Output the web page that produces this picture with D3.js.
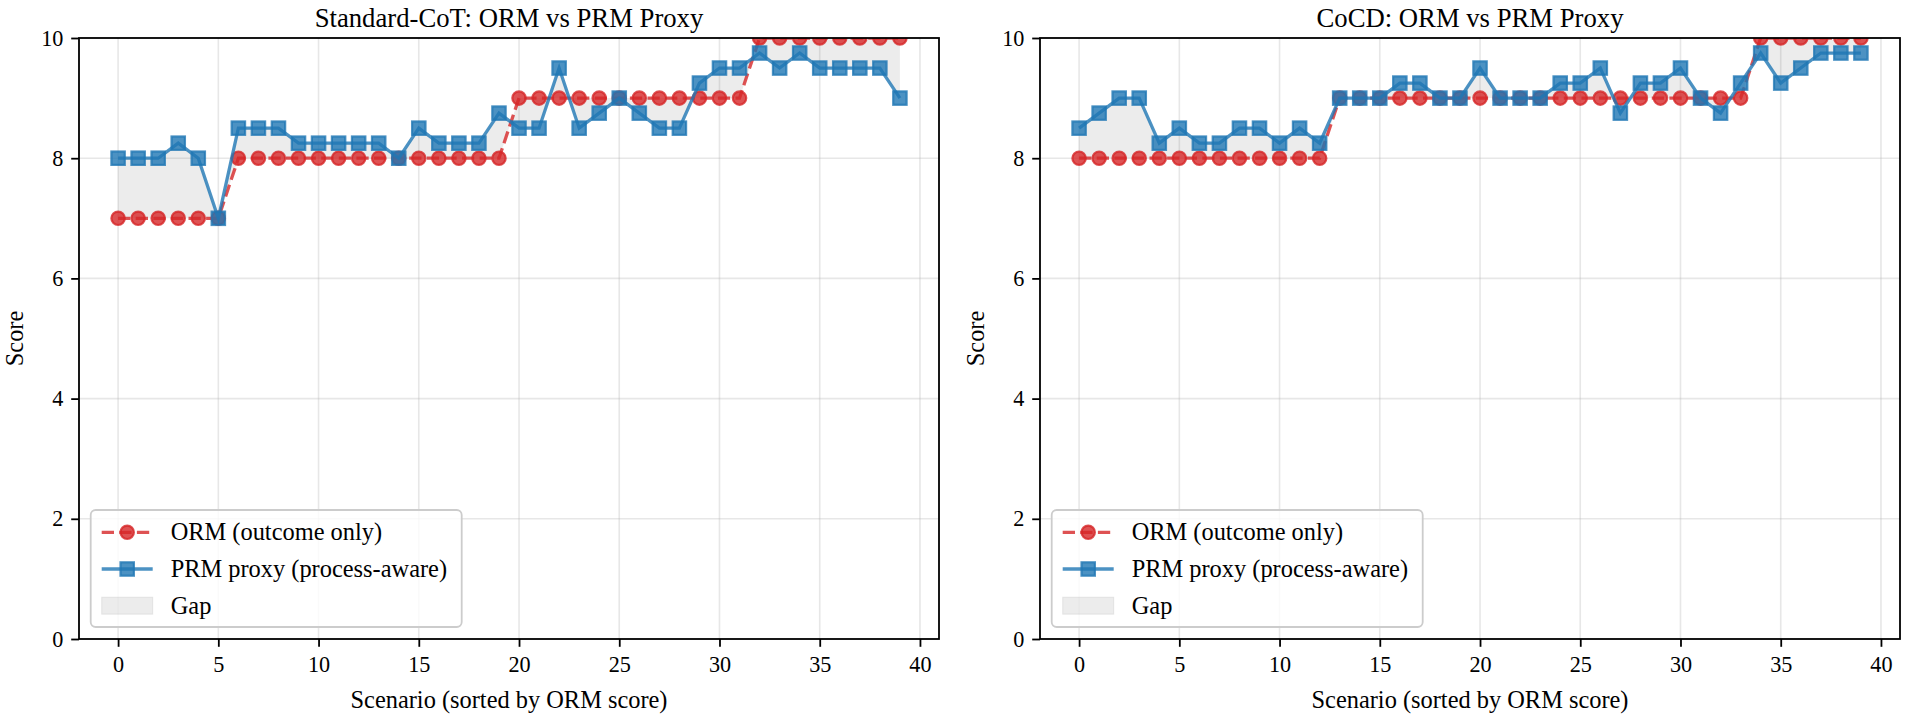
<!DOCTYPE html>
<html>
<head>
<meta charset="utf-8">
<script src="https://cdn.jsdelivr.net/npm/d3@7"></script>
<style>
  body { margin: 0; background: #fff; }
  svg { display: block; font-family: "Liberation Serif", "DejaVu Serif", serif; }
</style>
</head>
<body>
<div id="chart"></div>
<script>
const width = 1910;
const height = 723;

// scores per scenario, sorted by ORM score
const stdOrm = [7, 7, 7, 7, 7, 7, 8, 8, 8, 8, 8, 8, 8, 8, 8, 8, 8, 8, 8, 8,
                9, 9, 9, 9, 9, 9, 9, 9, 9, 9, 9, 9, 10, 10, 10, 10, 10, 10, 10, 10];
const stdPrm = [8, 8, 8, 8.25, 8, 7, 8.5, 8.5, 8.5, 8.25, 8.25, 8.25, 8.25, 8.25, 8, 8.5, 8.25, 8.25, 8.25, 8.75,
                8.5, 8.5, 9.5, 8.5, 8.75, 9, 8.75, 8.5, 8.5, 9.25, 9.5, 9.5, 9.75, 9.5, 9.75, 9.5, 9.5, 9.5, 9.5, 9];
const cocdOrm = [8, 8, 8, 8, 8, 8, 8, 8, 8, 8, 8, 8, 8, 9, 9, 9, 9, 9, 9, 9,
                 9, 9, 9, 9, 9, 9, 9, 9, 9, 9, 9, 9, 9, 9, 10, 10, 10, 10, 10, 10];
const cocdPrm = [8.5, 8.75, 9, 9, 8.25, 8.5, 8.25, 8.25, 8.5, 8.5, 8.25, 8.5, 8.25, 9, 9, 9, 9.25, 9.25, 9, 9,
                 9.5, 9, 9, 9, 9.25, 9.25, 9.5, 8.75, 9.25, 9.25, 9.5, 9, 8.75, 9.25, 9.75, 9.25, 9.5, 9.75, 9.75, 9.75];

const panelTitles = ["Standard-CoT: ORM vs PRM Proxy", "CoCD: ORM vs PRM Proxy"];
const xTicks = [0, 5, 10, 15, 20, 25, 30, 35, 40];
const yTicks = [0, 2, 4, 6, 8, 10];
const legendLabels = ["ORM (outcome only)", "PRM proxy (process-aware)", "Gap"];

const red = "#d62728";
const blue = "#1f77b4";
const plotTop = 38, plotBottom = 639, pw = 860;

const svg = d3.select("#chart")
    .append("svg")
    .attr("width", width)
    .attr("height", height);

function drawPanel(idx, left, title, orm, prm) {
    const g = svg.append("g");
    const idxs = orm.map((d, i) => i);

    const x = d3.scaleLinear().domain([-1.95, 40.95]).range([left, left + pw]);
    const y = d3.scaleLinear().domain([0, 10]).range([plotBottom, plotTop]);

    const clipId = "clip" + idx;
    svg.append("clipPath").attr("id", clipId)
        .append("rect")
        .attr("x", left).attr("y", plotTop)
        .attr("width", pw).attr("height", plotBottom - plotTop);

    // grid
    g.append("g").selectAll("line")
        .data(xTicks).join("line")
        .attr("x1", d => x(d)).attr("x2", d => x(d))
        .attr("y1", plotTop).attr("y2", plotBottom)
        .attr("stroke", "#b0b0b0").attr("stroke-opacity", 0.3).attr("stroke-width", 1.6);
    g.append("g").selectAll("line")
        .data(yTicks).join("line")
        .attr("x1", left).attr("x2", left + pw)
        .attr("y1", d => y(d)).attr("y2", d => y(d))
        .attr("stroke", "#b0b0b0").attr("stroke-opacity", 0.3).attr("stroke-width", 1.6);

    const plot = g.append("g").attr("clip-path", `url(#${clipId})`);

    // gap area
    plot.append("path")
        .datum(idxs)
        .attr("d", d3.area()
            .x(i => x(i))
            .y0(i => y(orm[i]))
            .y1(i => y(prm[i])))
        .attr("fill", "gray")
        .attr("fill-opacity", 0.15);

    // ORM
    plot.append("path")
        .datum(idxs)
        .attr("d", d3.line().x(i => x(i)).y(i => y(orm[i])))
        .attr("fill", "none")
        .attr("stroke", red)
        .attr("stroke-opacity", 0.8)
        .attr("stroke-width", 3.3)
        .attr("stroke-dasharray", "12.3,5.3");
    plot.append("g").selectAll("circle")
        .data(idxs).join("circle")
        .attr("cx", i => x(i))
        .attr("cy", i => y(orm[i]))
        .attr("r", 6.7)
        .attr("fill", red).attr("fill-opacity", 0.8)
        .attr("stroke", red).attr("stroke-opacity", 0.8)
        .attr("stroke-width", 2.2);

    // PRM
    plot.append("path")
        .datum(idxs)
        .attr("d", d3.line().x(i => x(i)).y(i => y(prm[i])))
        .attr("fill", "none")
        .attr("stroke", blue)
        .attr("stroke-opacity", 0.8)
        .attr("stroke-width", 3.3);
    plot.append("g").selectAll("rect")
        .data(idxs).join("rect")
        .attr("x", i => x(i) - 6.7)
        .attr("y", i => y(prm[i]) - 6.7)
        .attr("width", 13.4)
        .attr("height", 13.4)
        .attr("fill", blue).attr("fill-opacity", 0.8)
        .attr("stroke", blue).attr("stroke-opacity", 0.8)
        .attr("stroke-width", 2.2);

    // axes
    const xAxis = g.append("g")
        .attr("transform", `translate(0,${plotBottom})`)
        .call(d3.axisBottom(x).tickValues(xTicks).tickSize(7.8).tickPadding(9.5));
    const yAxis = g.append("g")
        .attr("transform", `translate(${left},0)`)
        .call(d3.axisLeft(y).tickValues(yTicks).tickSize(7.8).tickPadding(7.8));
    [xAxis, yAxis].forEach(a => {
        a.attr("font-family", null).attr("font-size", null);
        a.select(".domain").remove();
        a.selectAll(".tick line").attr("stroke", "#000").attr("stroke-width", 1.8);
        a.selectAll(".tick text")
            .attr("fill", "#000")
            .style("font-family", "'Liberation Serif', serif")
            .style("font-size", "22.2px");
    });

    g.append("rect")
        .attr("x", left).attr("y", plotTop)
        .attr("width", pw).attr("height", plotBottom - plotTop)
        .attr("fill", "none")
        .attr("stroke", "#000")
        .attr("stroke-width", 1.8);

    // labels
    g.append("text")
        .attr("x", left + pw / 2)
        .attr("y", 27)
        .attr("text-anchor", "middle")
        .style("font-size", "26.7px")
        .text(title);
    g.append("text")
        .attr("x", left + pw / 2)
        .attr("y", 708)
        .attr("text-anchor", "middle")
        .style("font-size", "24.4px")
        .text("Scenario (sorted by ORM score)");
    g.append("text")
        .attr("transform", `translate(${left - 56},${(plotTop + plotBottom) / 2}) rotate(-90)`)
        .attr("text-anchor", "middle")
        .style("font-size", "24.4px")
        .text("Score");

    // legend
    const lx = left + 11.7, ly = 510;
    const leg = g.append("g");
    leg.append("rect")
        .attr("x", lx).attr("y", ly)
        .attr("width", 371).attr("height", 117)
        .attr("rx", 5)
        .attr("fill", "#fff").attr("fill-opacity", 0.8)
        .attr("stroke", "#cccccc").attr("stroke-width", 1.8);
    const rowY = [532.3, 569, 605.7];
    const h0 = lx + 11, h1 = lx + 62, hm = (h0 + h1) / 2;
    // ORM handle
    leg.append("line")
        .attr("x1", h0).attr("x2", h1).attr("y1", rowY[0]).attr("y2", rowY[0])
        .attr("stroke", red).attr("stroke-opacity", 0.8).attr("stroke-width", 3.3)
        .attr("stroke-dasharray", "12.3,5.3");
    leg.append("circle")
        .attr("cx", hm).attr("cy", rowY[0]).attr("r", 6.7)
        .attr("fill", red).attr("fill-opacity", 0.8)
        .attr("stroke", red).attr("stroke-opacity", 0.8).attr("stroke-width", 2.2);
    // PRM handle
    leg.append("line")
        .attr("x1", h0).attr("x2", h1).attr("y1", rowY[1]).attr("y2", rowY[1])
        .attr("stroke", blue).attr("stroke-opacity", 0.8).attr("stroke-width", 3.3);
    leg.append("rect")
        .attr("x", hm - 6.7).attr("y", rowY[1] - 6.7).attr("width", 13.4).attr("height", 13.4)
        .attr("fill", blue).attr("fill-opacity", 0.8)
        .attr("stroke", blue).attr("stroke-opacity", 0.8).attr("stroke-width", 2.2);
    // Gap handle
    leg.append("rect")
        .attr("x", h0).attr("y", rowY[2] - 8.5).attr("width", h1 - h0).attr("height", 17)
        .attr("fill", "gray").attr("fill-opacity", 0.15)
        .attr("stroke", "gray").attr("stroke-opacity", 0.15);
    leg.selectAll("text")
        .data(legendLabels).join("text")
        .attr("x", lx + 80)
        .attr("y", (d, i) => rowY[i])
        .attr("dy", "0.33em")
        .style("font-size", "24.4px")
        .text(d => d);
}

drawPanel(0, 79, panelTitles[0], stdOrm, stdPrm);
drawPanel(1, 1040, panelTitles[1], cocdOrm, cocdPrm);
</script>
</body>
</html>
